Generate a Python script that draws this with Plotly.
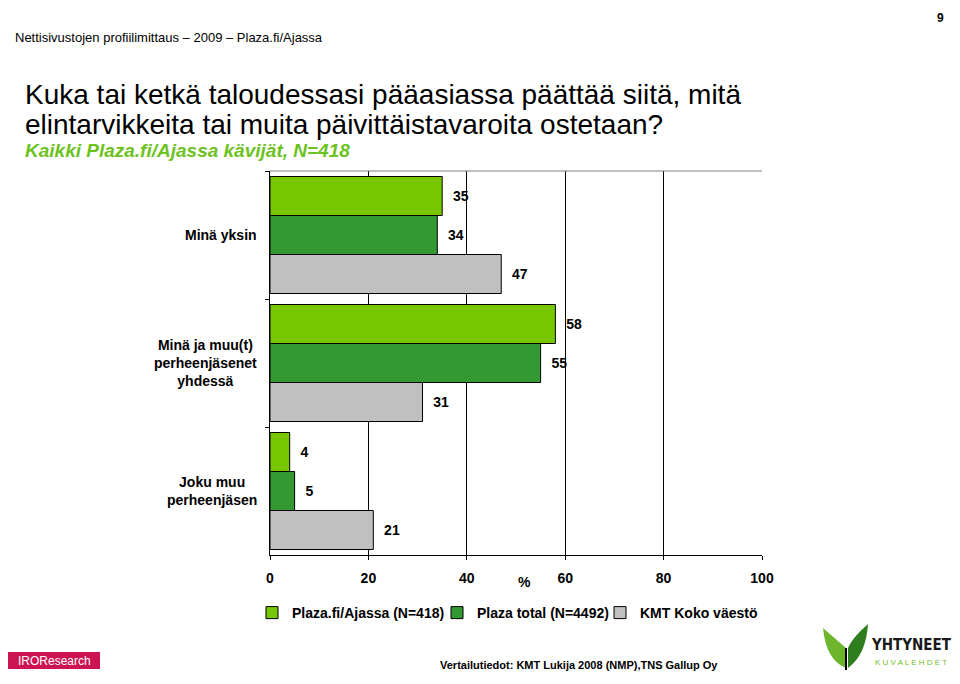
import plotly.graph_objects as go

categories = ["Minä yksin", "Minä ja muu(t)<br>perheenjäsenet<br>yhdessä", "Joku muu<br>perheenjäsen"]
series_names = ["Plaza.fi/Ajassa (N=418)", "Plaza total (N=4492)", "KMT Koko väestö"]
plaza_fi = [35, 58, 4]
plaza_total = [34, 55, 5]
kmt = [47, 31, 21]
x_ticks = [0, 20, 40, 60, 80, 100]

colors = ["#77C800", "#339933", "#C0C0C0"]
legend_widths = [140, 118, 125]
FONT = "Liberation Sans, Arial, sans-serif"

W, H = 960, 684
OFF = 8  # page body margin
L, R, T, B = 270, 762, 171, 555  # plot area in page pixels


def px(x):
    return (x - L) / (R - L)


def py(y):
    return (B - y) / (B - T)


fig = go.Figure()
for name, vals, col, lw in zip(series_names, [plaza_fi, plaza_total, kmt], colors, legend_widths):
    fig.add_trace(go.Bar(
        y=categories, x=vals, name=name, orientation="h",
        marker=dict(color=col, line=dict(color="#000000", width=1)),
        text=vals, texttemplate="\u00a0\u00a0%{x}", textposition="outside",
        constraintext="none", cliponaxis=False, legendwidth=lw,
        textfont=dict(family=FONT, size=14, color="#000000", weight="bold"),
        hoverinfo="x+name",
    ))

annotations = []
for c in categories:
    annotations.append(dict(
        x=0, xref="paper", y=c, yref="y", xanchor="right", yanchor="middle",
        xshift=-11, text=c, showarrow=False, align="center",
        font=dict(family=FONT, size=14, color="#000000", weight="bold"),
    ))

annotations += [
    dict(x=px(13), y=py(37), xref="paper", yref="paper", xanchor="left", yanchor="middle",
         text="Nettisivustojen profiilimittaus – 2009 – Plaza.fi/Ajassa", showarrow=False,
         font=dict(family=FONT, size=13, color="#000000")),
    dict(x=px(940), y=py(9), xref="paper", yref="paper", xanchor="center", yanchor="top",
         text="<b>9</b>", showarrow=False, font=dict(family=FONT, size=12, color="#000000")),
    dict(x=px(23), y=py(94), xref="paper", yref="paper", xanchor="left", yanchor="middle",
         text="Kuka tai ketkä taloudessasi pääasiassa päättää siitä, mitä", showarrow=False,
         font=dict(family=FONT, size=28, color="#000000")),
    dict(x=px(23), y=py(124), xref="paper", yref="paper", xanchor="left", yanchor="middle",
         text="elintarvikkeita tai muita päivittäistavaroita ostetaan?", showarrow=False,
         font=dict(family=FONT, size=28, color="#000000")),
    dict(x=px(23), y=py(150), xref="paper", yref="paper", xanchor="left", yanchor="middle",
         text="<b><i>Kaikki Plaza.fi/Ajassa kävijät, N=418</i></b>", showarrow=False,
         font=dict(family=FONT, size=19, color="#6CC21E")),
    dict(x=px(524), y=py(582), xref="paper", yref="paper", xanchor="center", yanchor="middle",
         text="<b>%</b>", showarrow=False,
         font=dict(family=FONT, size=14, color="#000000")),
    dict(x=px(579), y=py(665), xref="paper", yref="paper", xanchor="center", yanchor="middle",
         text="<b>Vertailutiedot: KMT Lukija 2008 (NMP),TNS Gallup Oy</b>", showarrow=False,
         font=dict(family=FONT, size=11, color="#000000")),
    dict(x=px(54), y=py(661), xref="paper", yref="paper", xanchor="center", yanchor="middle",
         text="IROResearch", showarrow=False,
         font=dict(family=FONT, size=12, color="#FFFFFF")),
    dict(x=px(911), y=py(645), xref="paper", yref="paper", xanchor="center", yanchor="middle",
         text="<b>YHTYNEET</b>", showarrow=False,
         font=dict(family="DejaVu Sans Condensed, Liberation Sans Narrow, sans-serif", size=15, color="#1A1A1A")),
    dict(x=px(911), y=py(662), xref="paper", yref="paper", xanchor="center", yanchor="middle",
         text="K U V A L E H D E T", showarrow=False,
         font=dict(family=FONT, size=8, color="#6CC21E")),
]

shapes = [
    dict(type="rect", xref="paper", yref="paper", x0=px(2), x1=px(100), y0=py(669), y1=py(652),
         fillcolor="#CC1452", line=dict(width=0), layer="above"),
    dict(type="path", xref="paper", yref="paper", layer="above",
         path=f"M {px(823)},{py(628)} L {px(846)},{py(648)} L {px(846)},{py(668)} Q {px(826)},{py(660)} {px(823)},{py(628)} Z",
         fillcolor="#6CB52D", line=dict(width=0)),
    dict(type="path", xref="paper", yref="paper", layer="above",
         path=f"M {px(868)},{py(624)} Q {px(852)},{py(638)} {px(848)},{py(648)} L {px(848)},{py(668)} Q {px(866)},{py(655)} {px(868)},{py(624)} Z",
         fillcolor="#2E7D1E", line=dict(width=0)),
    dict(type="line", xref="paper", yref="paper", x0=px(846), x1=px(846), y0=py(648), y1=py(670),
         line=dict(color="#000000", width=2), layer="above"),
    dict(type="line", xref="paper", yref="paper", x0=0, x1=1, y0=1, y1=1,
         line=dict(color="#808080", width=1)),
]

fig.update_layout(
    width=W, height=H, autosize=False,
    margin=dict(l=L - OFF, r=W - (R - OFF), t=T - OFF, b=H - (B - OFF), pad=0),
    paper_bgcolor="#FFFFFF", plot_bgcolor="#FFFFFF",
    barmode="group", bargap=0.086, bargroupgap=0,
    showlegend=True,
    legend=dict(orientation="h", x=px(252), y=py(613), xanchor="left", yanchor="middle",
                font=dict(family=FONT, size=14, color="#000000", weight="bold"),
                itemwidth=30, traceorder="normal", bgcolor="rgba(0,0,0,0)"),
    xaxis=dict(range=[0, 100], tickvals=x_ticks, showgrid=True, gridcolor="#000000", gridwidth=1,
               zeroline=False, showline=True, linecolor="#000000", linewidth=1, mirror=False,
               ticks="outside", ticklen=4, tickcolor="#000000",
               tickfont=dict(family=FONT, size=14, color="#000000", weight="bold"),
               ticklabelstandoff=6),
    yaxis=dict(categoryorder="array", categoryarray=categories, autorange="reversed",
               showticklabels=False, showline=True, linecolor="#000000", linewidth=1,
               ticks="outside", tickson="boundaries", ticklen=4, tickcolor="#000000",
               showgrid=False, zeroline=False),
    annotations=annotations,
    shapes=shapes,
)

fig.write_html("out.html")
